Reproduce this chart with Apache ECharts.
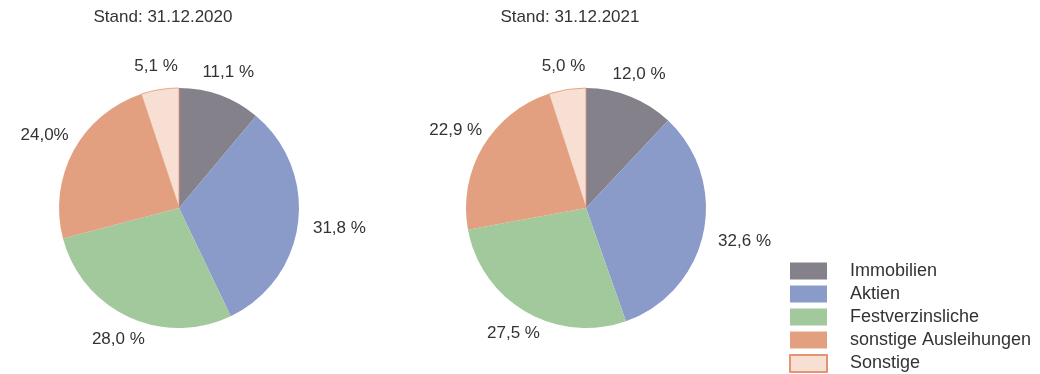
<!DOCTYPE html>
<html>
<head>
<meta charset="utf-8">
<script src="https://cdn.jsdelivr.net/npm/echarts@6/dist/echarts.min.js"></script>
<style>
  html, body { margin: 0; padding: 0; background: #fff; }
  #chart { width: 1040px; height: 374px; }
</style>
</head>
<body>
<div id="chart"></div>
<script>
// Asset classes (slices run clockwise from 12 o'clock)
const categories = ['Immobilien', 'Aktien', 'Festverzinsliche', 'sonstige Ausleihungen', 'Sonstige'];
const colors = ['#85818b', '#8a9bca', '#a2c99c', '#e2a080', '#f8dfd3'];

// Shares in percent per reporting date
const titles = ['Stand: 31.12.2020', 'Stand: 31.12.2021'];
const values2020 = [11.1, 31.8, 28.0, 24.0, 5.1];
const values2021 = [12.0, 32.6, 27.5, 22.9, 5.0];
// Unit suffix as printed next to each share
const suffix2020 = [' %', ' %', ' %', '%', ' %'];
const suffix2021 = [' %', ' %', ' %', ' %', ' %'];

const allValues = [values2020, values2021];
const allSuffix = [suffix2020, suffix2021];

const centers = [[179, 208], [586, 208]];
const radius = 120;
const labelGap = 15;
const font = '"Liberation Sans", Arial, Helvetica, sans-serif';

function fmt(v, suffix) {
  return v.toFixed(1).replace('.', ',') + suffix;
}

// Place each label centred just outside its slice, along the slice's mid-angle
function placeLabel(params) {
  const s = params.seriesIndex;
  const vals = allValues[s];
  const total = vals.reduce((a, b) => a + b, 0);
  let cum = 0;
  for (let i = 0; i < params.dataIndex; i++) cum += vals[i];
  const mid = (cum + vals[params.dataIndex] / 2) / total * Math.PI * 2;
  const sx = Math.sin(mid), sy = -Math.cos(mid);
  const hw = params.labelRect.width / 2, hh = params.labelRect.height / 2;
  const ext = Math.min(
    Math.abs(sx) > 1e-6 ? hw / Math.abs(sx) : Infinity,
    Math.abs(sy) > 1e-6 ? hh / Math.abs(sy) : Infinity
  );
  const d = radius + labelGap + ext;
  const c = centers[s];
  return { x: c[0] + sx * d, y: c[1] + sy * d, align: 'center', verticalAlign: 'middle' };
}

function makeSeries(idx) {
  const vals = allValues[idx];
  const suf = allSuffix[idx];
  return {
    type: 'pie',
    center: centers[idx],
    radius: radius,
    startAngle: 90,
    clockwise: true,
    avoidLabelOverlap: false,
    emphasis: { disabled: true },
    label: {
      show: true,
      position: 'outside',
      fontFamily: font,
      fontSize: 17,
      color: '#333',
      formatter: p => fmt(vals[p.dataIndex], suf[p.dataIndex])
    },
    labelLine: { show: false },
    labelLayout: placeLabel,
    data: categories.map((name, i) => ({
      name: name,
      value: vals[i],
      itemStyle: i === 4
        ? { color: colors[i], borderColor: '#e39475', borderWidth: 0.8 }
        : { color: colors[i], borderWidth: 0 }
    }))
  };
}

const chart = echarts.init(document.getElementById('chart'), null, { renderer: 'canvas' });
chart.setOption({
  animation: false,
  backgroundColor: '#fff',
  title: [
    { text: titles[0], left: 163, top: 9, textAlign: 'center', padding: 0,
      textStyle: { fontFamily: font, fontSize: 17, fontWeight: 'normal', color: '#333' } },
    { text: titles[1], left: 570, top: 9, textAlign: 'center', padding: 0,
      textStyle: { fontFamily: font, fontSize: 17, fontWeight: 'normal', color: '#333' } }
  ],
  legend: {
    orient: 'vertical',
    left: 789,
    top: 262,
    height: 140,
    width: 250,
    padding: 0,
    itemWidth: 37,
    itemHeight: 17,
    itemGap: 5,
    icon: 'rect',
    selectedMode: false,
    data: categories,
    textStyle: {
      fontFamily: font,
      fontSize: 18,
      color: '#333',
      lineHeight: 18,
      padding: [0, 0, 0, 18]
    }
  },
  series: [makeSeries(0), makeSeries(1)]
});
</script>
</body>
</html>
